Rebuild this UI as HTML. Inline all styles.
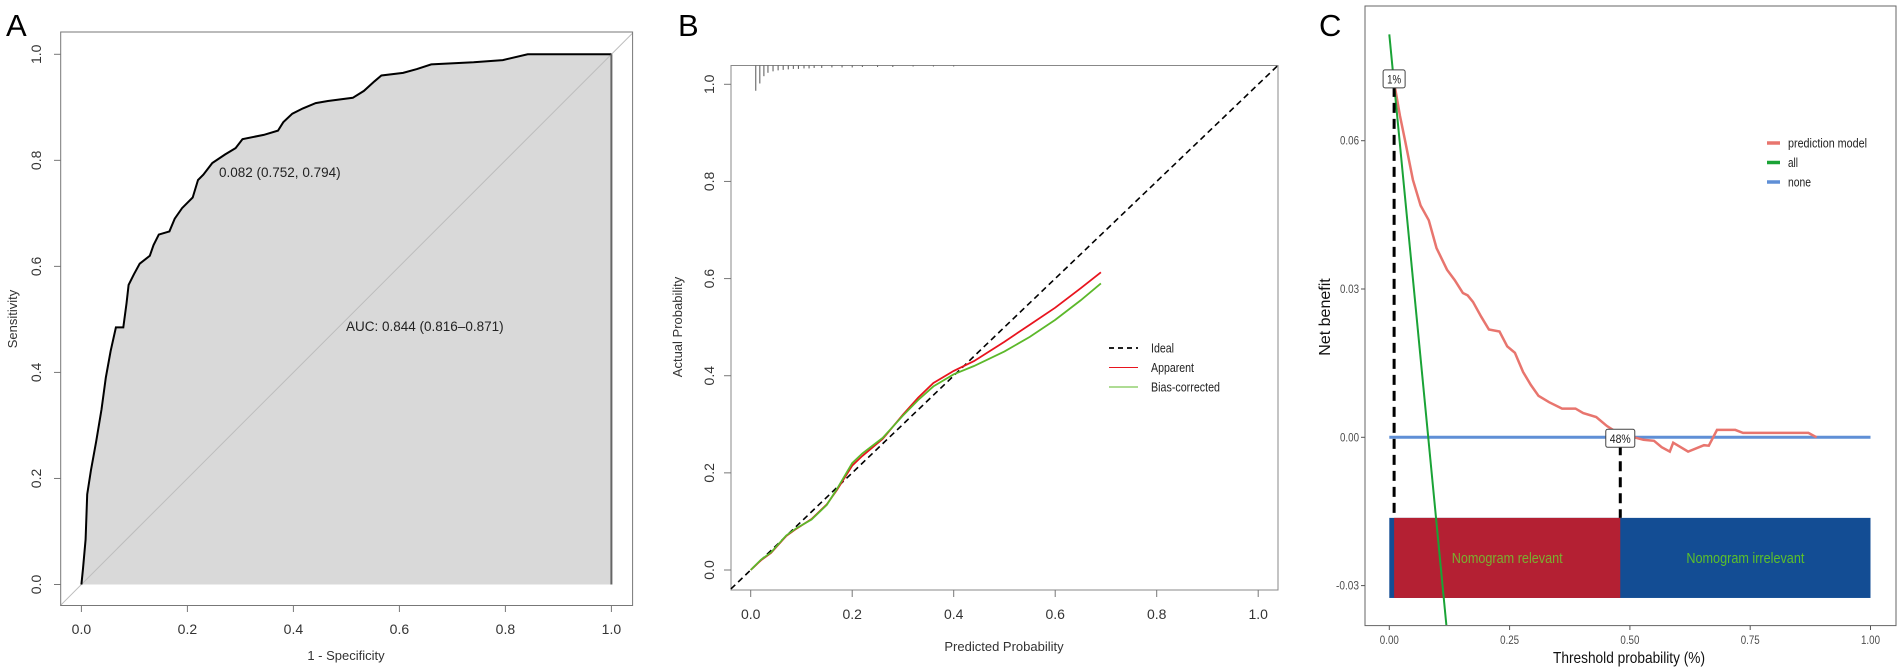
<!DOCTYPE html>
<html><head><meta charset="utf-8"><style>
html,body{margin:0;padding:0;background:#fff;}
svg{display:block;}
.t{font-family:"Liberation Sans",Arial,sans-serif;}
.n{font-family:"Liberation Sans Narrow","Liberation Sans",Arial,sans-serif;}
</style></head><body>
<svg id="fig" width="1902" height="671" viewBox="0 0 1902 671" xmlns="http://www.w3.org/2000/svg">
<defs><clipPath id="clipC"><rect x="1365" y="6" width="531" height="619"/></clipPath></defs>
<text class="t" x="6" y="36" font-size="31">A</text>
<text class="t" x="678" y="36" font-size="31">B</text>
<text class="t" x="1319" y="36" font-size="31">C</text>
<g id="pa"></g>
<g id="pb"></g>
<g id="pc"></g>
</svg>
<script>
// ---------- Panel A data ----------
const rocFpr=[0,0.003,0.008,0.011,0.018,0.028,0.038,0.046,0.055,0.065,0.079,0.085,0.089,0.099,0.11,0.129,0.136,0.146,0.166,0.176,0.19,0.21,0.22,0.23,0.247,0.271,0.291,0.304,0.344,0.371,0.381,0.398,0.418,0.442,0.465,0.512,0.533,0.553,0.566,0.607,0.633,0.66,0.74,0.795,0.842,1.0];
const rocTpr=[0,0.03,0.085,0.17,0.215,0.27,0.33,0.39,0.44,0.485,0.485,0.53,0.565,0.585,0.605,0.62,0.64,0.66,0.666,0.69,0.71,0.73,0.763,0.773,0.795,0.811,0.823,0.84,0.848,0.856,0.872,0.888,0.898,0.908,0.912,0.918,0.931,0.949,0.96,0.965,0.972,0.981,0.985,0.989,1.0,1.0];
const aTicks=[0,0.2,0.4,0.6,0.8,1.0];
const aTickLabels=["0.0","0.2","0.4","0.6","0.8","1.0"];
// ---------- Panel B data ----------
const calPred=[0,0.02,0.04,0.07,0.09,0.12,0.15,0.17,0.2,0.22,0.26,0.3,0.33,0.36,0.4,0.44,0.5,0.55,0.6,0.65,0.69];
const apparentY=[0,0.02,0.035,0.07,0.085,0.105,0.135,0.165,0.215,0.235,0.27,0.32,0.355,0.385,0.41,0.43,0.47,0.505,0.54,0.58,0.613];
const biasY=[0,0.021,0.036,0.071,0.086,0.104,0.134,0.167,0.22,0.24,0.272,0.318,0.35,0.378,0.403,0.42,0.45,0.48,0.515,0.555,0.59];
const rugX=[0.010,0.018,0.026,0.034,0.044,0.054,0.064,0.074,0.084,0.094,0.105,0.115,0.125,0.14,0.16,0.18,0.2,0.22,0.25,0.28,0.32,0.36,0.4];
const rugLen=[0.052,0.037,0.022,0.015,0.012,0.010,0.009,0.008,0.007,0.007,0.006,0.006,0.005,0.005,0.004,0.004,0.004,0.003,0.003,0.003,0.002,0.002,0.002];
const bTicks=[0,0.2,0.4,0.6,0.8,1.0];
const bTickLabels=["0.0","0.2","0.4","0.6","0.8","1.0"];
// ---------- Panel C data ----------
const modelT=[0.011,0.022,0.033,0.049,0.065,0.082,0.098,0.12,0.136,0.153,0.163,0.174,0.191,0.207,0.229,0.245,0.261,0.278,0.294,0.31,0.332,0.359,0.387,0.403,0.43,0.452,0.479,0.501,0.528,0.55,0.566,0.583,0.59,0.621,0.654,0.664,0.681,0.719,0.735,0.871,0.888];
const modelNB=[0.0712,0.0651,0.0599,0.0521,0.0469,0.0439,0.0383,0.0339,0.0318,0.0292,0.0287,0.0274,0.0244,0.0218,0.0214,0.0184,0.0171,0.0132,0.0106,0.0084,0.0071,0.0058,0.0058,0.0049,0.0041,0.0023,0.0006,0.0002,-0.0005,-0.0007,-0.002,-0.0029,-0.0011,-0.0029,-0.0016,-0.0017,0.0015,0.0015,0.0009,0.0009,0];
const allT=[0,0.12];
const allNB=[0.0815,-0.0393];
const noneT=[0,1];
const noneNB=[0,0];
const cutoffs=[0.01,0.48];
const cutoffLabels=["1%","48%"];
const cXTicks=[0,0.25,0.5,0.75,1];
const cXLabels=["0.00","0.25","0.50","0.75","1.00"];
const cYTicks=[0.06,0.03,0,-0.03];
const cYLabels=["0.06","0.03","0.00","-0.03"];

const NS="http://www.w3.org/2000/svg";
function mk(tag,attrs,parent){const e=document.createElementNS(NS,tag);for(const k in attrs)e.setAttribute(k,attrs[k]);parent.appendChild(e);return e;}
function pts(xs,ys,fx,fy){return xs.map((v,i)=>fx(v).toFixed(1)+","+fy(ys[i]).toFixed(1)).join(" ");}

// ---------- Panel A ----------
(function(){
const g=document.getElementById('pa');
const xA=v=>81.4+v*530, yA=v=>584.5-v*530.2;
let e;
e=mk('polygon',{points:pts(rocFpr.concat([1,0]),rocTpr.concat([0,0]),xA,yA),fill:'#d9d9d9',stroke:'none'},g);


e=mk('line',{x1:xA(-0.04),y1:yA(-0.04),x2:xA(1.04),y2:yA(1.04),stroke:'#bdbdbd','stroke-width':1},g);


e=mk('polyline',{points:pts(rocFpr,rocTpr,xA,yA),fill:'none',stroke:'#000','stroke-width':2},g);


e=mk('line',{x1:xA(1),y1:yA(0),x2:xA(1),y2:yA(1),stroke:'#666','stroke-width':2},g);


e=mk('rect',{x:60.7,y:32,width:571.9,height:573.5,fill:'none',stroke:'#777','stroke-width':1},g);


aTicks.forEach((v,i)=>{
 let t=mk('line',{x1:xA(v),y1:605.5,x2:xA(v),y2:612,stroke:'#777'},g);
 
 
 t=mk('text',{x:xA(v),y:634,'text-anchor':'middle','font-size':14,fill:'#333',class:'t'},g);
 t.textContent=aTickLabels[i];
 
 
 t=mk('line',{x1:60.7,y1:yA(v),x2:54,y2:yA(v),stroke:'#777'},g);
 
 
 t=mk('text',{x:0,y:0,transform:`translate(41,${yA(v)}) rotate(-90)`,'text-anchor':'middle','font-size':14,fill:'#333',class:'t'},g);
 t.textContent=aTickLabels[i];
 
 
});
e=mk('text',{x:346,y:660,'text-anchor':'middle','font-size':13,fill:'#333',class:'t'},g);
e.textContent='1 - Specificity';


e=mk('text',{x:0,y:0,transform:'translate(17,319) rotate(-90)','text-anchor':'middle','font-size':13,fill:'#333',class:'t'},g);
e.textContent='Sensitivity';


e=mk('text',{x:219,y:177,'font-size':13.5,fill:'#222',class:'t'},g);
e.textContent='0.082 (0.752, 0.794)';


e=mk('text',{x:346,y:331,'font-size':13.5,fill:'#222',class:'t'},g);
e.textContent='AUC: 0.844 (0.816–0.871)';


})();

// ---------- Panel B ----------
(function(){
const g=document.getElementById('pb');
const xB=v=>750.7+v*507.5, yB=v=>570-v*485.7;
let e;
e=mk('rect',{x:731,y:65.5,width:547,height:524.5,fill:'none',stroke:'#888','stroke-width':1},g);


rugX.forEach((v,i)=>{
 const r=mk('line',{x1:xB(v),y1:65.5,x2:xB(v),y2:65.5+rugLen[i]*485.7,stroke:'#555','stroke-width':1},g);
 
 
});
e=mk('line',{x1:xB(-0.039),y1:yB(-0.039),x2:xB(1.038),y2:yB(1.038),stroke:'#000','stroke-width':1.6,'stroke-dasharray':'6,4'},g);


e=mk('polyline',{points:pts(calPred,apparentY,xB,yB),fill:'none',stroke:'#e8141e','stroke-width':1.8},g);


e=mk('polyline',{points:pts(calPred,biasY,xB,yB),fill:'none',stroke:'#5cb82a','stroke-width':1.8},g);


bTicks.forEach((v,i)=>{
 let t=mk('line',{x1:xB(v),y1:590,x2:xB(v),y2:597,stroke:'#777'},g);
 
 
 t=mk('text',{x:xB(v),y:619,'text-anchor':'middle','font-size':14,fill:'#333',class:'t'},g);
 t.textContent=bTickLabels[i];
 
 
 t=mk('line',{x1:731,y1:yB(v),x2:724,y2:yB(v),stroke:'#777'},g);
 
 
 t=mk('text',{x:0,y:0,transform:`translate(714,${yB(v)}) rotate(-90)`,'text-anchor':'middle','font-size':14,fill:'#333',class:'t'},g);
 t.textContent=bTickLabels[i];
 
 
});
e=mk('text',{x:1004,y:651,'text-anchor':'middle','font-size':13,fill:'#333',class:'t'},g);
e.textContent='Predicted Probability';


e=mk('text',{x:0,y:0,transform:'translate(682,327) rotate(-90)','text-anchor':'middle','font-size':13,fill:'#333',class:'t'},g);
e.textContent='Actual Probability';


const leg=[['Ideal','#000','5,4',23],['Apparent','#e8141e','',43],['Bias-corrected','#5cb82a','',69]];
leg.forEach((L,i)=>{
 const y=348+i*19.5;
 let l=mk('line',{x1:1109,y1:y,x2:1138,y2:y,stroke:L[1],'stroke-width':L[2]?1.8:1,'stroke-dasharray':L[2]||'none'},g);
 
 
 l=mk('text',{x:1151,y:y+4.5,'font-size':12.5,fill:'#222',class:'n',textLength:L[3],lengthAdjust:'spacingAndGlyphs'},g);
 l.textContent=L[0];
 
 
});
})();

// ---------- Panel C ----------
(function(){
const g=document.getElementById('pc');
const xC=v=>1389.3+v*481.2, yC=v=>437.3-v/0.03*148.3;
let e;
e=mk('rect',{x:1365,y:6,width:531,height:619.6,fill:'none',stroke:'#666','stroke-width':1},g);


e=mk('rect',{x:xC(0),y:yC(-0.0163),width:xC(1)-xC(0),height:yC(-0.0325)-yC(-0.0163),fill:'#134d94'},g);


e=mk('rect',{x:xC(cutoffs[0]),y:yC(-0.0163),width:xC(cutoffs[1])-xC(cutoffs[0]),height:yC(-0.0325)-yC(-0.0163),fill:'#b42033'},g);


e=mk('text',{x:(xC(cutoffs[0])+xC(cutoffs[1]))/2,y:563,'text-anchor':'middle','font-size':15,fill:'#7ab030',class:'n',textLength:111,lengthAdjust:'spacingAndGlyphs'},g);
e.textContent='Nomogram relevant';


e=mk('text',{x:(xC(cutoffs[1])+xC(1))/2,y:563,'text-anchor':'middle','font-size':15,fill:'#5cc02a',class:'n',textLength:118,lengthAdjust:'spacingAndGlyphs'},g);
e.textContent='Nomogram irrelevant';


const cg=mk('g',{'clip-path':'url(#clipC)'},g);


e=mk('polyline',{points:pts(noneT,noneNB,xC,yC),fill:'none',stroke:'#5f8fd6','stroke-width':3},cg);


e=mk('polyline',{points:pts(modelT,modelNB,xC,yC),fill:'none',stroke:'#e8756e','stroke-width':2.5},cg);


e=mk('polyline',{points:pts(allT,allNB,xC,yC),fill:'none',stroke:'#1aa336','stroke-width':2},cg);


const topY=[0.0725,0.0];
cutoffs.forEach((c,i)=>{
 let d=mk('line',{x1:xC(c),y1:yC(topY[i])+8,x2:xC(c),y2:yC(-0.0163),stroke:'#000','stroke-width':3,'stroke-dasharray':'10,6'},g);
 
 
 const w=i==0?22:29, cx=xC(c), cy=yC(topY[i])+(i==0?0:1);
 d=mk('rect',{x:cx-w/2,y:cy-9,width:w,height:18,rx:2,fill:'#fff',stroke:'#444','stroke-width':1},g);
 
 
 d=mk('text',{x:cx,y:cy+4.5,'text-anchor':'middle','font-size':12,fill:'#222',class:'n',textLength:i==0?14:21,lengthAdjust:'spacingAndGlyphs'},g);
 d.textContent=cutoffLabels[i];
 
 
});
cXTicks.forEach((v,i)=>{
 let t=mk('line',{x1:xC(v),y1:625.6,x2:xC(v),y2:630,stroke:'#555'},g);
 
 
 t=mk('text',{x:xC(v),y:644,'text-anchor':'middle','font-size':12,fill:'#4d4d4d',class:'n',textLength:19,lengthAdjust:'spacingAndGlyphs'},g);
 t.textContent=cXLabels[i];
 
 
});
cYTicks.forEach((v,i)=>{
 let t=mk('line',{x1:1365,y1:yC(v),x2:1361,y2:yC(v),stroke:'#555'},g);
 
 
 t=mk('text',{x:1359,y:yC(v)+4,'text-anchor':'end','font-size':12,fill:'#4d4d4d',class:'n',textLength:v<0?23:19,lengthAdjust:'spacingAndGlyphs'},g);
 t.textContent=cYLabels[i];
 
 
});
e=mk('text',{x:1629,y:663,'text-anchor':'middle','font-size':16,fill:'#111',class:'n',textLength:152,lengthAdjust:'spacingAndGlyphs'},g);
e.textContent='Threshold probability (%)';


e=mk('text',{x:0,y:0,transform:'translate(1330,317) rotate(-90)','text-anchor':'middle','font-size':16,fill:'#111',class:'t'},g);
e.textContent='Net benefit';


const cl=[['prediction model','#e8756e',79],['all','#1aa336',10],['none','#5f8fd6',23]];
cl.forEach((L,i)=>{
 const y=143+i*19.5;
 let l=mk('line',{x1:1767,y1:y,x2:1780,y2:y,stroke:L[1],'stroke-width':3.5},g);
 
 
 l=mk('text',{x:1788,y:y+4.5,'font-size':12.5,fill:'#222',class:'n',textLength:L[2],lengthAdjust:'spacingAndGlyphs'},g);
 l.textContent=L[0];
 
 
});
})();
</script>
</body></html>
